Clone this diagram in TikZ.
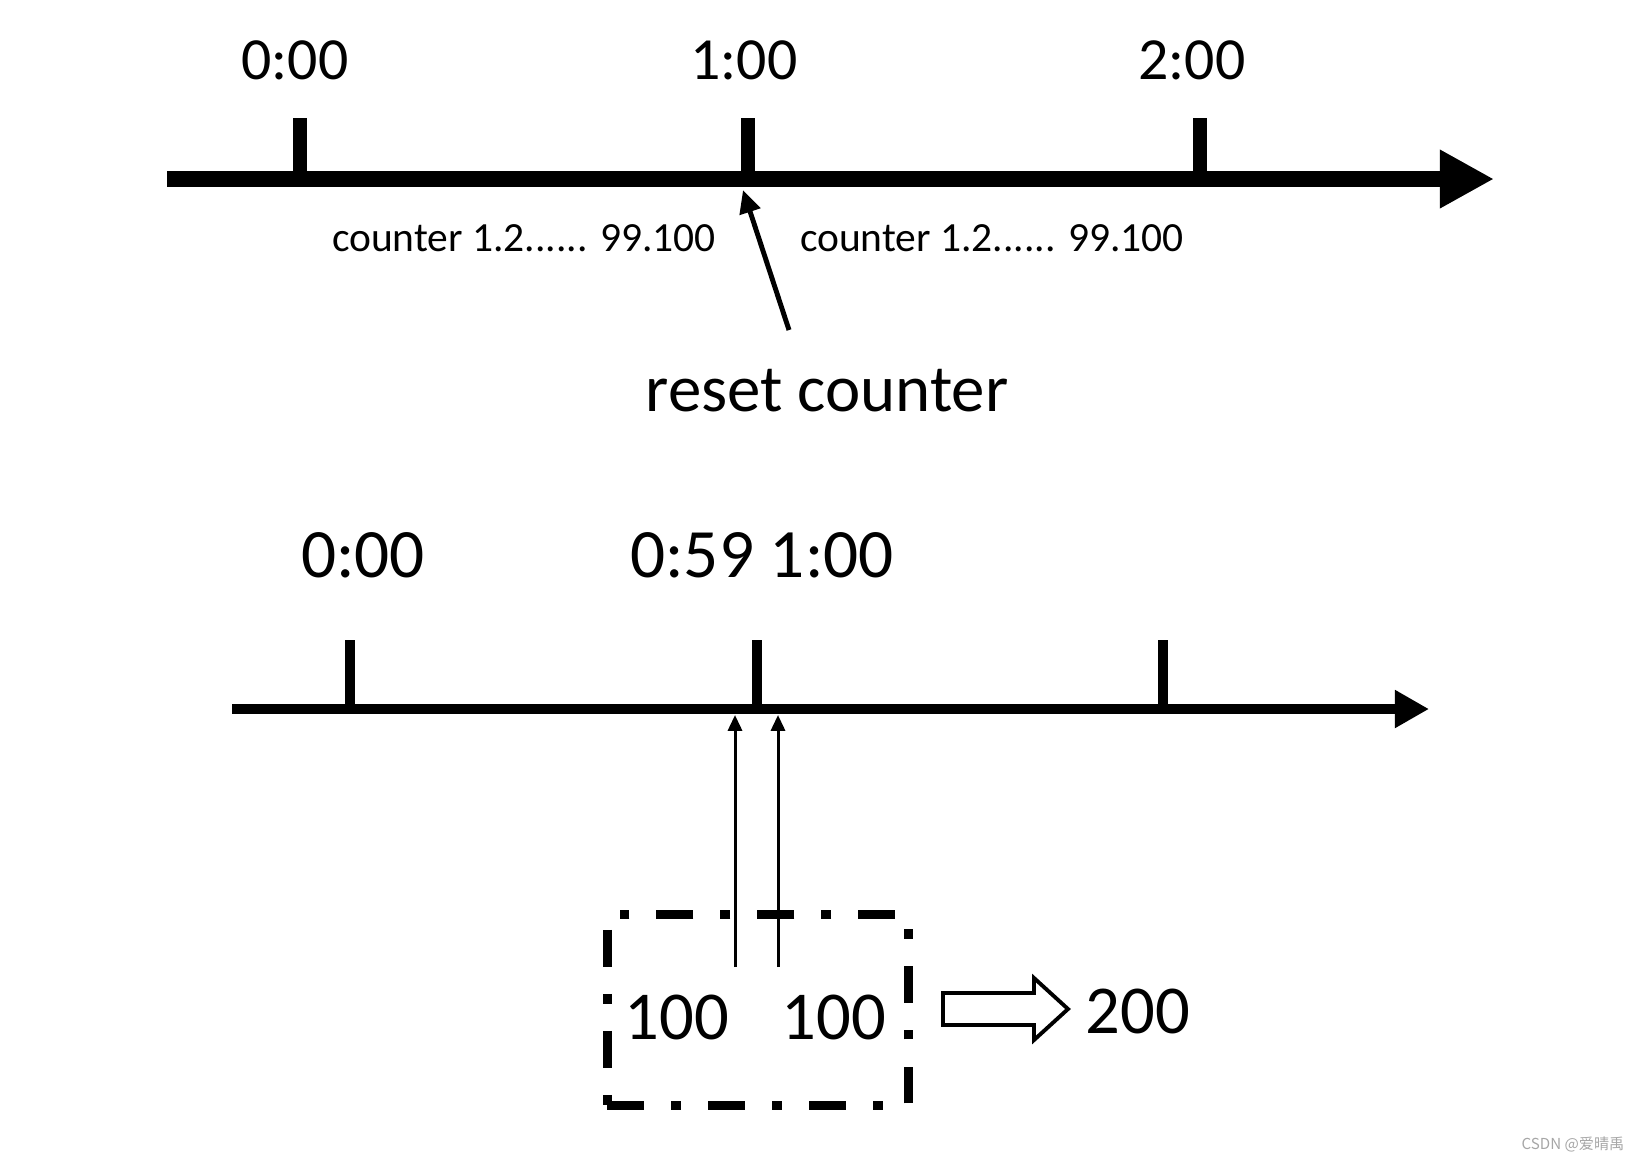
\documentclass[tikz,border=0pt]{standalone}
\usepackage{fontspec}
\setmainfont{Carlito}
\newfontfamily\cjkfont{Noto Sans CJK SC}
\usetikzlibrary{arrows.meta}

\begin{document}
\begin{tikzpicture}[
    x=0.01cm, y=-0.01cm,
    mainaxis/.style={line width=4.8pt, -{Triangle[length=15.4pt, width=15.6pt]}},
    lowaxis/.style={line width=3.1pt, -{Triangle[length=9.7pt, width=10.2pt]}},
    bigtick/.style={line width=3.8pt},
    smalltick/.style={line width=2.6pt},
    hourlabel/.style={inner sep=0pt, font=\fontsize{17}{20}\selectfont},
    lowlabel/.style={inner sep=0pt, font=\fontsize{19.7}{23}\selectfont},
    countlabel/.style={inner sep=0pt, font=\fontsize{11.8}{14}\selectfont},
    resetlabel/.style={inner sep=0pt, font=\fontsize{19}{22}\selectfont},
    pointer/.style={line width=1.4pt, -{Triangle[length=6.5pt, width=6pt]}},
    readarrow/.style={line width=0.85pt, -{Triangle[length=4.5pt, width=4pt]}},
    sumbox/.style={rectangle, draw, line width=2.55pt, minimum width=3.01cm, minimum height=1.9cm,
        dash pattern=on 10.5pt off 7.7pt on 2.8pt off 7.7pt},
    valuelabel/.style={inner sep=0pt, font=\fontsize{19.5}{23}\selectfont},
    fatarrow/.style={draw, line width=1.1pt, line join=miter},
    wmark/.style={inner sep=0pt, text=gray!70, font=\cjkfont\fontsize{4.3}{5}\selectfont}
]
\useasboundingbox (0,0) rectangle (1636,1160);

% ===== TOP TIMELINE =====
\coordinate (top_start) at (167,179);
\coordinate (top_end) at (1494,179);
\draw[mainaxis] (top_start) -- (top_end);
\foreach \x/\n in {300/0, 748/1, 1200/2} {
    \coordinate (tk\n) at (\x,179);
    \draw[bigtick] (tk\n) -- ++(0,-61);
}

\node[hourlabel] (top0) at (295,60) {0:00};
\node[hourlabel] (top1) at (744,60) {1:00};
\node[hourlabel] (top2) at (1192,60) {2:00};

\node[countlabel] (count_a) at (524,238) {counter 1.2...... 99.100};
\node[countlabel] (count_b) at (992,238) {counter 1.2...... 99.100};

% reset marker
\node[resetlabel] (reset) at (827,391) {reset counter};
\coordinate (reset_tail) at (789,330);
\coordinate (reset_tip) at (743,190);
\draw[pointer] (reset_tail) -- (reset_tip);

% ===== BOTTOM TIMELINE =====
\coordinate (low_start) at (232,709);
\coordinate (low_end) at (1429,709);
\draw[lowaxis] (low_start) -- (low_end);
\foreach \x/\n in {350/0, 757/1, 1163/2} {
    \coordinate (lk\n) at (\x,709);
    \draw[smalltick] (lk\n) -- ++(0,-69);
}

\node[lowlabel] (low0) at (363,555) {0:00};
\node[lowlabel] (low1) at (762,555) {0:59 1:00};

% counting window
\node[sumbox] (window) at (758,1010) {};
\node[valuelabel] (val_a) at (677,1017) {100};
\node[valuelabel] (val_b) at (834,1017) {100};

\coordinate (feed_a) at (735,967);
\coordinate (feed_b) at (778,967);
\coordinate (hit_a) at (735,715);
\coordinate (hit_b) at (778,715);
\draw[readarrow] (feed_a) -- (hit_a);
\draw[readarrow] (feed_b) -- (hit_b);

% sum
\coordinate (sum_tail) at (943,1009);
\draw[fatarrow] (sum_tail) ++(0,-16) -- ++(91,0) -- ++(0,-15) -- ++(34,31)
    -- ++(-34,31) -- ++(0,-15) -- ++(-91,0) -- cycle;
\node[valuelabel] (total) at (1138,1011) {200};

\node[wmark] (credit) at (1573,1144) {CSDN @爱晴禹};

\end{tikzpicture}
\end{document}
